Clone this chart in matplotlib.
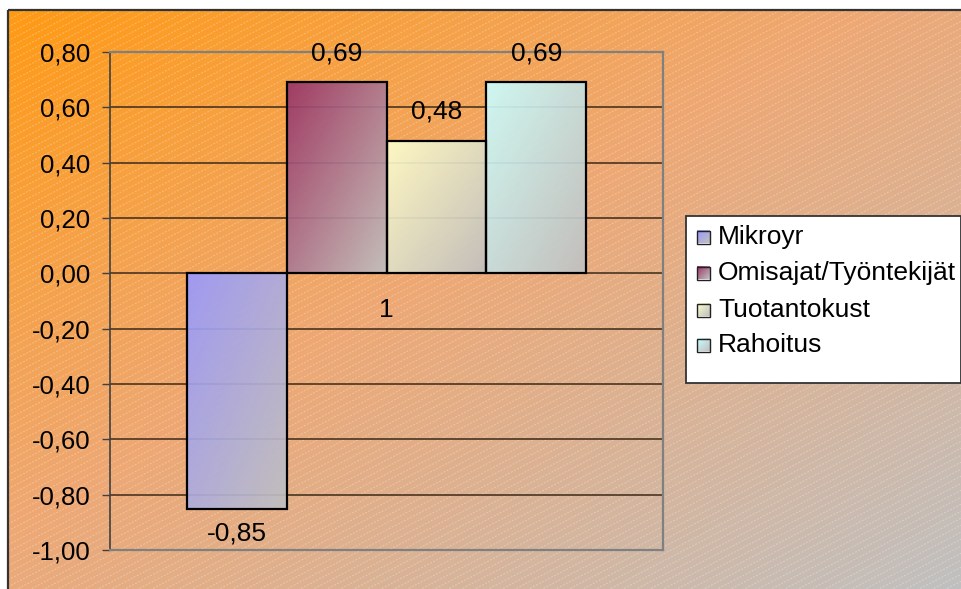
import numpy as np
import matplotlib
matplotlib.use("Agg")
import matplotlib.pyplot as plt
from matplotlib.collections import LineCollection
from matplotlib.patches import Rectangle

plt.rcParams['font.family'] = ['Liberation Sans', 'DejaVu Sans']

# ---- data ----
series = ["Mikroyr", "Omisajat/Työntekijät", "Tuotantokust", "Rahoitus"]
values = [-0.85, 0.69, 0.48, 0.69]
category = "1"
yticks = [-1.0, -0.8, -0.6, -0.4, -0.2, 0.0, 0.2, 0.4, 0.6, 0.8]
colors = ["#9999FF", "#993366", "#FFFFCC", "#CCFFFF"]

W, H = 962, 589
fig = plt.figure(figsize=(W / 100, H / 100), dpi=100)
fig.patch.set_facecolor("white")

def grad_img(stops, n=64):
    pos = np.array([p for p, _ in stops])
    cols = np.array([matplotlib.colors.to_rgb(c) for _, c in stops])
    u = np.linspace(0, 1, n)
    t = (u[None, :] + u[:, None]) / 2.0
    out = np.zeros((n, n, 3))
    for k in range(3):
        out[..., k] = np.interp(t, pos, cols[:, k])
    return out

# ---- background (chart area) ----
bg = fig.add_axes([0, 0, 1, 1])
bg.set_xlim(0, W); bg.set_ylim(H, 0); bg.axis("off")
x0c, y0c = 8, 10
bg_img = grad_img([(0, "#FF9A14"), (0.45, "#EEA874"), (1, "#C0C0C0")], 256)
bg.imshow(bg_img, extent=(x0c, W, H, y0c), aspect="auto", origin="upper",
          interpolation="bilinear", zorder=0)
segs = []
slope = 0.52
for c in np.arange(y0c, H + slope * W + 10, 7):
    segs.append([(x0c, c - slope * x0c), (W, c - slope * W)])
lc = LineCollection(segs, colors="white", alpha=0.3, linewidths=0.7,
                    linestyles=(0, (2, 1.5)), zorder=1)
clip = Rectangle((x0c, y0c), W - x0c, H - y0c, transform=bg.transData)
lc.set_clip_path(clip)
bg.add_collection(lc)
bg.plot([x0c, x0c], [H, y0c], color="#333333", lw=1.6, zorder=2, solid_capstyle="butt")
bg.plot([x0c, W], [y0c, y0c], color="#333333", lw=1.6, zorder=2, solid_capstyle="butt")

# ---- main plot ----
L, R, T, B = 110, 663, 52, 550
ax = fig.add_axes([L / W, (H - B) / H, (R - L) / W, (B - T) / H])
ax.set_facecolor("none")
ax.set_xlim(-0.5, 0.5)
ax.set_ylim(-1.0, 0.8)
ax.set_yticks(yticks)
ax.set_yticklabels([f"{v:.2f}".replace(".", ",") if abs(v) > 1e-9 else "0,00" for v in yticks])
ax.set_xticks([])
ax.yaxis.grid(True, color="#4A3420", lw=1.2)
ax.set_axisbelow(True)
for s in ["top", "right", "bottom"]:
    ax.spines[s].set_color("#808080")
    ax.spines[s].set_linewidth(1.6)
ax.spines["left"].set_color("#404040")
ax.spines["left"].set_linewidth(1.2)
ax.tick_params(axis="y", direction="out", length=5.8, width=1.0, color="#404040",
               pad=8.4, labelsize=18.5)

n = len(series)
w = 0.7233 / n
for i, (name, v, col) in enumerate(zip(series, values, colors)):
    xc = (i - (n - 1) / 2) * w
    bar = ax.bar(xc, v, width=w, facecolor="none", edgecolor="black", linewidth=1.6, zorder=4)[0]
    xb0, xb1 = xc - w / 2, xc + w / 2
    ytop, ybot = max(v, 0), min(v, 0)
    im = ax.imshow(grad_img([(0, col), (1, "#C0C0C0")]), extent=(xb0, xb1, ybot, ytop), origin="upper",
                   aspect="auto", interpolation="bilinear", alpha=0.92, zorder=3)
    im.set_clip_path(bar)
    lab = f"{v:.2f}".replace(".", ",")
    off = 29 if v >= 0 else -25
    ax.annotate(lab, xy=(xc, v), xytext=(0, off), textcoords="offset pixels",
                ha="center", va="center", fontsize=19, zorder=6)
ax.set_xlim(-0.5, 0.5)
ax.set_ylim(-1.0, 0.8)
ax.annotate(category, xy=(0, 0), xytext=(0, -37), textcoords="offset pixels",
            ha="center", va="center", fontsize=19, zorder=6)

# ---- legend ----
ov = fig.add_axes([0, 0, 1, 1])
ov.set_xlim(0, W); ov.set_ylim(H, 0); ov.axis("off"); ov.set_facecolor("none")
ov.add_patch(Rectangle((686, 216), 275, 167, facecolor="white", edgecolor="#333333", lw=1.3, zorder=1))
ys = [237, 273, 310, 345]
for name, col, yy in zip(series, colors, ys):
    sq = Rectangle((697, yy - 6.5), 13, 13, facecolor="none", edgecolor="#222222", lw=1.0, zorder=3)
    ov.add_patch(sq)
    ov.imshow(grad_img([(0, col), (1, "#C0C0C0")], 16), extent=(697, 710, yy + 6.5, yy - 6.5),
              origin="upper", aspect="auto", interpolation="bilinear", zorder=2)
    ov.text(718, yy, name, ha="left", va="center", fontsize=19, zorder=4)
ov.set_xlim(0, W); ov.set_ylim(H, 0)

fig.savefig("out.png", dpi=100)
